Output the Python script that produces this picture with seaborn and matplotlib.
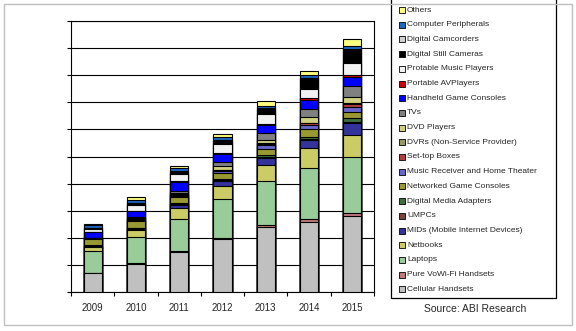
import numpy as np
import pandas as pd
import matplotlib
matplotlib.use("Agg")
import matplotlib.pyplot as plt
from matplotlib.patches import Rectangle
import seaborn as sns

sns.set_theme(style="white")
plt.rcParams["font.family"] = ["Liberation Sans", "DejaVu Sans"]

years = ["2009", "2010", "2011", "2012", "2013", "2014", "2015"]

# Shipments per device category (hundreds of millions), bottom of stack first
cellular_handsets = [0.69, 1.03, 1.46, 1.94, 2.39, 2.59, 2.80]
pure_vowifi       = [0.02, 0.03, 0.04, 0.04, 0.085, 0.12, 0.12]
laptops           = [0.80, 0.98, 1.20, 1.44, 1.62, 1.85, 2.07]
netbooks          = [0.15, 0.26, 0.41, 0.50, 0.59, 0.74, 0.79]
mids              = [0.03, 0.04, 0.11, 0.18, 0.26, 0.31, 0.47]
umpcs             = [0.01, 0.01, 0.02, 0.02, 0.02, 0.02, 0.02]
media_adapters    = [0.02, 0.03, 0.04, 0.05, 0.085, 0.10, 0.15]
game_consoles     = [0.22, 0.24, 0.22, 0.22, 0.21, 0.27, 0.24]
music_receivers   = [0.02, 0.04, 0.06, 0.08, 0.16, 0.15, 0.17]
settop_boxes      = [0.01, 0.02, 0.02, 0.03, 0.04, 0.07, 0.12]
dvrs              = [0.01, 0.02, 0.02, 0.02, 0.02, 0.03, 0.03]
dvd_players       = [0.01, 0.03, 0.05, 0.12, 0.12, 0.21, 0.20]
tvs               = [0.01, 0.04, 0.09, 0.15, 0.25, 0.28, 0.41]
handheld_consoles = [0.22, 0.21, 0.33, 0.31, 0.31, 0.35, 0.35]
portable_av       = [0.01, 0.02, 0.03, 0.03, 0.05, 0.06, 0.06]
music_players     = [0.08, 0.22, 0.24, 0.33, 0.34, 0.34, 0.46]
still_cameras     = [0.05, 0.05, 0.10, 0.12, 0.22, 0.39, 0.48]
camcorders        = [0.01, 0.02, 0.02, 0.02, 0.02, 0.02, 0.02]
peripherals       = [0.10, 0.12, 0.10, 0.12, 0.08, 0.10, 0.10]
others            = [0.05, 0.09, 0.10, 0.12, 0.18, 0.17, 0.28]

series_names = [
    "Cellular Handsets", "Pure VoWi-Fi Handsets", "Laptops", "Netbooks",
    "MIDs (Mobile Internet Devices)", "UMPCs", "Digital Media Adapters",
    "Networked Game Consoles", "Music Receiver and Home Theater",
    "Set-top Boxes", "DVRs (Non-Service Provider)", "DVD Players", "TVs",
    "Handheld Game Consoles", "Portable AVPlayers", "Protable Music Players",
    "Digital Still Cameras", "Digital Camcorders", "Computer Peripherals",
    "Others",
]
series_values = [
    cellular_handsets, pure_vowifi, laptops, netbooks, mids, umpcs,
    media_adapters, game_consoles, music_receivers, settop_boxes, dvrs,
    dvd_players, tvs, handheld_consoles, portable_av, music_players,
    still_cameras, camcorders, peripherals, others,
]
series_colors = [
    "#C0C0C0", "#C07878", "#99CC99", "#CCCC66", "#333399", "#7F3F3F",
    "#3F6F3F", "#999933", "#6666CC", "#B04040", "#999966", "#D0D080",
    "#808080", "#0000FF", "#CC0000", "#F2F2F2", "#000000", "#D0D0D0",
    "#1F66C0", "#FFFF80",
]

W, H = 576, 331
fig = plt.figure(figsize=(W / 100, H / 100), dpi=100)
fig.patch.set_facecolor("white")


def fx(x):
    return x / W


def fy(y):
    return 1 - y / H


ax = fig.add_axes([fx(71), fy(292), fx(374) - fx(71), fy(21) - fy(292)])

# Stacked bars: draw cumulative totals from the top layer down
data = pd.DataFrame({name: vals for name, vals in zip(series_names, series_values)},
                    index=years)
cum = data.cumsum(axis=1)
for name, color in reversed(list(zip(series_names, series_colors))):
    df = pd.DataFrame({"year": years, "total": cum[name].values})
    sns.barplot(data=df, x="year", y="total", color=color, saturation=1,
                width=0.42, edgecolor="black", linewidth=0.8,
                errorbar=None, ax=ax, zorder=3)

ax.set_xlim(-0.5, len(years) - 0.5)
ax.set_ylim(0, 10)
ax.set_yticks(np.arange(0, 11, 1))
ax.set_yticklabels([])
ax.grid(axis="y", color="black", linewidth=0.8, zorder=0)
ax.set_axisbelow(True)
ax.set_xlabel("")
ax.set_ylabel("")
ax.set_xticks(range(len(years)))
ax.set_xticklabels(years, fontsize=7)
ax.set_xticks(np.arange(-0.5, len(years), 1), minor=True)
ax.tick_params(axis="x", which="major", length=0, pad=8)
ax.tick_params(axis="x", which="minor", length=3, width=0.8, color="black",
               direction="out", bottom=True)
ax.tick_params(axis="y", which="major", length=3, width=0.8, color="black",
               direction="out", left=True)
for s in ax.spines.values():
    s.set_visible(True)
    s.set_color("black")
    s.set_linewidth(0.8)

# Legend box, top entry first
fig.patches.append(Rectangle((fx(391), fy(298)), fx(556) - fx(391), fy(-2) - fy(298),
                             transform=fig.transFigure, facecolor="white",
                             edgecolor="black", linewidth=0.9))
row0, step = 10.0, 14.7
for i, (name, color) in enumerate(reversed(list(zip(series_names, series_colors)))):
    y = row0 + i * step
    fig.patches.append(Rectangle((fx(398.5), fy(y + 3)), fx(6), fy(0) - fy(6),
                                 transform=fig.transFigure, facecolor=color,
                                 edgecolor="black", linewidth=0.6))
    fig.text(fx(407), fy(y), name, fontsize=6, va="center", ha="left")

fig.text(fx(475), fy(309), "Source: ABI Research", fontsize=7.5,
         va="center", ha="center")

# Outer frame
fig.patches.append(Rectangle((fx(4), fy(325)), fx(572) - fx(4), fy(4) - fy(325),
                             transform=fig.transFigure, facecolor="none",
                             edgecolor="#C0C0C0", linewidth=1.0))

fig.savefig("out.png", dpi=100)
